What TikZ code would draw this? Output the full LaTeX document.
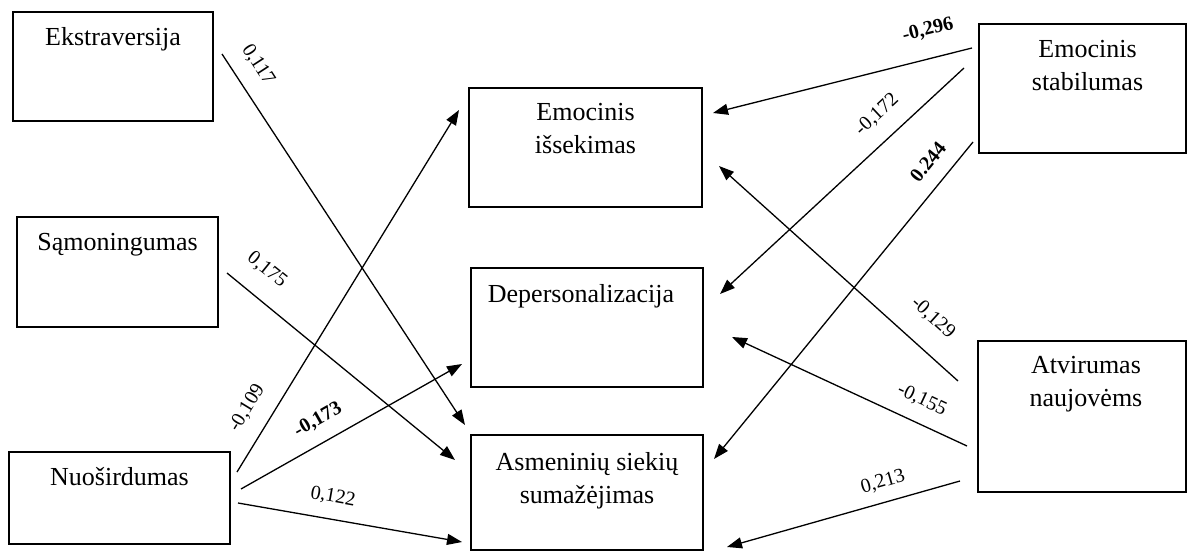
\documentclass[tikz,border=0pt]{standalone}
\usepackage{fontspec}
\setmainfont{Liberation Serif}
\usetikzlibrary{arrows.meta,positioning}

\tikzset{
  box/.style = {draw, line width=1.6pt, inner sep=0pt, outer sep=0pt},
  boxtext/.style = {inner sep=0pt, align=center, font=\fontsize{26pt}{33pt}\selectfont},
  link/.style = {line width=1.3pt, -{Triangle[length=15pt,width=11pt]}},
  coef/.style = {inner sep=0pt, font=\fontsize{20pt}{24pt}\selectfont},
  coefb/.style = {inner sep=0pt, font=\fontsize{20pt}{24pt}\selectfont\bfseries}
}

\begin{document}
\begin{tikzpicture}[x=1pt, y=-1pt]
\useasboundingbox (0,0) rectangle (1187,551);

\node[box, minimum width=200pt, minimum height=109pt] (ekstr) at (113,66.5) {};
\node[box, minimum width=201pt, minimum height=110pt] (samon) at (117.5,272) {};
\node[box, minimum width=221pt, minimum height=92pt] (nuos) at (119.5,498) {};
\node[box, minimum width=233pt, minimum height=119pt] (emis) at (585.5,147.5) {};
\node[box, minimum width=232pt, minimum height=119pt] (depers) at (587,327.5) {};
\node[box, minimum width=232pt, minimum height=115pt] (asm) at (587,492.5) {};
\node[box, minimum width=207pt, minimum height=129pt] (emst) at (1082.5,88.5) {};
\node[box, minimum width=208pt, minimum height=151pt] (atv) at (1082,416.5) {};

\node[boxtext, below=15pt of ekstr.north] (ekstr-t) {Ekstraversija};
\node[boxtext, below=16pt of samon.north] (samon-t) {Sąmoningumas};
\node[boxtext, below=15pt of nuos.north] (nuos-t) {Nuoširdumas};
\node[boxtext, below=15.5pt of emis.north] (emis-t) {Emocinis\\išsekimas};
\node[boxtext, below=16pt of depers.north, xshift=-6pt] (depers-t) {Depersonalizacija};
\node[boxtext, below=17pt of asm.north] (asm-t) {Asmeninių siekių\\sumažėjimas};
\node[boxtext, below=16.5pt of emst.north, xshift=5pt] (emst-t) {Emocinis\\stabilumas};
\node[boxtext, below=15.5pt of atv.north, xshift=4pt] (atv-t) {Atvirumas\\naujovėms};

\draw[link] ([shift={(9,42)}]ekstr.north east) -- ([shift={(-6,-10)}]asm.north west);
\draw[link] ([shift={(9,56)}]samon.north east) -- ([shift={(-16,25)}]asm.north west);
\draw[link] ([shift={(7,20)}]nuos.north east) -- ([shift={(-10,22)}]emis.north west);
\draw[link] ([shift={(11,37)}]nuos.north east) -- ([shift={(-9,96)}]depers.north west);
\draw[link] ([shift={(8,51)}]nuos.north east) -- ([shift={(-9,107)}]asm.north west);
\draw[link] ([shift={(-7,24)}]emst.north west) -- ([shift={(11,25)}]emis.north east);
\draw[link] ([shift={(-15,44)}]emst.north west) -- ([shift={(17,26)}]depers.north east);
\draw[link] ([shift={(-6,118)}]emst.north west) -- ([shift={(11,24)}]asm.north east);
\draw[link] ([shift={(-20,40)}]atv.north west) -- ([shift={(17,78)}]emis.north east);
\draw[link] ([shift={(-11,105)}]atv.north west) -- ([shift={(29,69)}]depers.north east);
\draw[link] ([shift={(-18,140)}]atv.north west) -- ([shift={(24,112)}]asm.north east);

\node[coef, rotate=-57] (c117) at (258,65) {0,117};
\node[coef, rotate=-39] (c175) at (267,270) {0,175};
\node[coef, rotate=58.5] (c109) at (247,408) {-0,109};
\node[coefb, rotate=29.5] (c173) at (318,420) {-0,173};
\node[coef, rotate=-10] (c122) at (333,497) {0,122};
\node[coefb, rotate=14] (c296) at (928,30) {-0,296};
\node[coef, rotate=43] (c172) at (877,115) {-0,172};
\node[coefb, rotate=51] (c244) at (928,162) {0.244};
\node[coef, rotate=-42] (c129) at (933,318) {-0,129};
\node[coef, rotate=-25] (c155) at (922,400) {-0,155};
\node[coef, rotate=16] (c213) at (883,482) {0,213};

\end{tikzpicture}
\end{document}
